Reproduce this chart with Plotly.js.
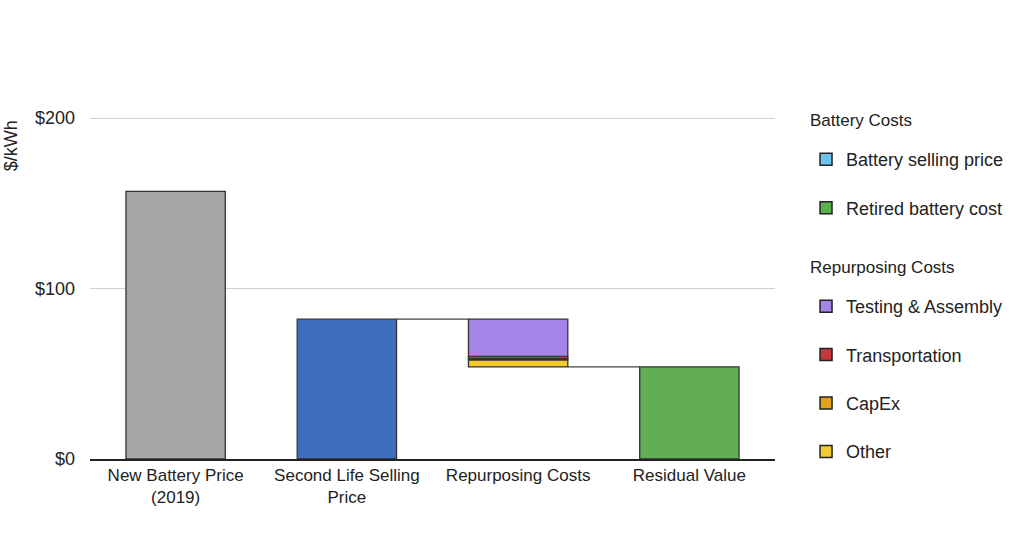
<!DOCTYPE html>
<html>
<head>
<meta charset="utf-8">
<script src="https://cdn.plot.ly/plotly-3.0.1.min.js"></script>
<style>html,body{margin:0;padding:0;background:#fff;}#chart{width:1024px;height:551px;}</style>
</head>
<body>
<div id="chart"></div>
<script>
// ---- data ----
const categories = ["New Battery Price<br>(2019)", "Second Life Selling<br>Price", "Repurposing Costs", "Residual Value"];
const newBatteryPrice = 157;
const secondLifePrice = 82;
const repurposingLabels = ["Other", "CapEx", "Transportation", "Testing & Assembly"];
const repurposingValues = [4.2, 0.6, 1.4, 21.8];
const residualValue = 54;
const yTickVals = [0, 100, 200];
const yTickText = ["$0", "$100", "$200"];
const legendGroupTitles = ["Battery Costs", "Repurposing Costs"];
const batteryLegendNames = ["Battery selling price", "Retired battery cost"];
const repurposingLegendNames = ["Testing & Assembly", "Transportation", "CapEx", "Other"];

// ---- styles ----
const barWidth = 0.58;
const outline = {color: "#333333", width: 1.3};
const repColors = {"Other": "#F2CB2F", "CapEx": "#E3A21A", "Transportation": "#C8373A", "Testing & Assembly": "#A585E8"};
const batteryLegendColors = {"Battery selling price": "#6CC3EE", "Retired battery cost": "#5BAF4F"};
const xpos = categories.map((c, i) => i);

const traces = [];
traces.push({type: "bar", x: [xpos[0]], y: [newBatteryPrice], width: barWidth,
  marker: {color: "#A6A6A6", line: outline}, showlegend: false, hoverinfo: "y"});
traces.push({type: "bar", x: [xpos[1]], y: [secondLifePrice], width: barWidth,
  marker: {color: "#3F6EBF", line: outline}, showlegend: false, hoverinfo: "y"});
let base = residualValue;
repurposingLabels.forEach((lab, i) => {
  traces.push({type: "bar", x: [xpos[2]], y: [repurposingValues[i]], base: [base], width: barWidth,
    marker: {color: repColors[lab], line: outline}, showlegend: false, name: lab, hoverinfo: "name+y"});
  base += repurposingValues[i];
});
traces.push({type: "bar", x: [xpos[3]], y: [residualValue], width: barWidth,
  marker: {color: "#62AE55", line: outline}, showlegend: false, hoverinfo: "y"});
// connectors
traces.push({type: "scatter", mode: "lines", x: [xpos[1] + barWidth / 2, xpos[2] - barWidth / 2],
  y: [secondLifePrice, secondLifePrice], line: {color: "#444", width: 1.2}, showlegend: false, hoverinfo: "skip"});
traces.push({type: "scatter", mode: "lines", x: [xpos[2] + barWidth / 2, xpos[3] - barWidth / 2],
  y: [residualValue, residualValue], line: {color: "#444", width: 1.2}, showlegend: false, hoverinfo: "skip"});

// legend-only entries
batteryLegendNames.forEach((n, i) => {
  traces.push({type: "bar", x: [null], y: [null], name: n, legend: "legend", legendgroup: "b" + i,
    marker: {color: batteryLegendColors[n], line: {color: "#222", width: 1.5}}, showlegend: true});
});
repurposingLegendNames.forEach((n, i) => {
  traces.push({type: "bar", x: [null], y: [null], name: n, legend: "legend2", legendgroup: "r" + i,
    marker: {color: repColors[n], line: {color: "#222", width: 1.5}}, showlegend: true});
});

const legendCommon = {xanchor: "left", yanchor: "top", tracegroupgap: 22, maxheight: 400,
  font: {size: 18, color: "#222"}, bgcolor: "rgba(0,0,0,0)", traceorder: "grouped"};

const layout = {
  width: 1024, height: 551,
  margin: {l: 90, r: 249, t: 116, b: 92},
  paper_bgcolor: "#fff", plot_bgcolor: "#fff",
  font: {family: "Liberation Sans, Arial, sans-serif", size: 17, color: "#222"},
  barmode: "overlay",
  bargap: 0,
  xaxis: {range: [-0.5, 3.5], tickvals: xpos, ticktext: categories, showgrid: false,
    zeroline: false, showline: true, linecolor: "#222", linewidth: 1.5, ticks: "",
    tickfont: {size: 17, color: "#222"}, fixedrange: true},
  yaxis: {range: [0, 201.2], tickvals: yTickVals, ticktext: yTickText, showgrid: true,
    gridcolor: "#D0D0D0", gridwidth: 1, zeroline: false, showline: false, ticks: "",
    ticklabelstandoff: 14, tickfont: {size: 18, color: "#222"}, fixedrange: true},
  legend: Object.assign({x: 1.0453, y: 0.927}, legendCommon),
  legend2: Object.assign({x: 1.0453, y: 0.4985}, legendCommon),
  annotations: [
    {text: "$/kWh", xref: "paper", yref: "paper", x: (11 - 90) / 685, y: (459 - 148) / 341,
      xanchor: "center", yanchor: "middle", textangle: -90, showarrow: false,
      font: {size: 18, color: "#222"}},
    {text: legendGroupTitles[0], xref: "paper", yref: "paper", x: (808 - 90) / 685, y: (459 - 122) / 341,
      xanchor: "left", yanchor: "middle", showarrow: false, font: {size: 17, color: "#222"}},
    {text: legendGroupTitles[1], xref: "paper", yref: "paper", x: (808 - 90) / 685, y: (459 - 269) / 341,
      xanchor: "left", yanchor: "middle", showarrow: false, font: {size: 17, color: "#222"}}
  ]
};

Plotly.newPlot("chart", traces, layout, {displayModeBar: false, staticPlot: true});
</script>
</body>
</html>
